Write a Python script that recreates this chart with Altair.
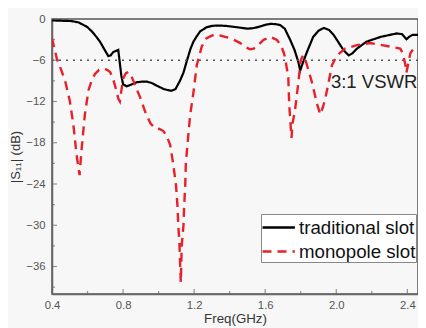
import altair as alt
import pandas as pd

# ---- data ----
series_names = ["traditional slot", "monopole slot"]

freq_trad = [0.40, 0.45, 0.51, 0.55, 0.576, 0.60, 0.624, 0.65, 0.67, 0.69, 0.717, 0.73, 0.745,
             0.773, 0.78, 0.79, 0.80, 0.82, 0.85, 0.877, 0.91, 0.933, 0.96, 0.99, 1.03, 1.07,
             1.095, 1.12, 1.14, 1.16, 1.18, 1.196, 1.215, 1.234, 1.27, 1.30, 1.33, 1.38, 1.44,
             1.50, 1.53, 1.57, 1.60, 1.63, 1.66, 1.685, 1.71, 1.74, 1.765, 1.787, 1.797, 1.81,
             1.835, 1.87, 1.90, 1.93, 1.96, 1.985, 2.01, 2.04, 2.07, 2.09, 2.117, 2.17, 2.25,
             2.34, 2.37, 2.395, 2.41, 2.43, 2.50]
s11_trad = [-0.2, -0.25, -0.3, -0.5, -0.85, -1.2, -1.8, -2.6, -3.3, -4.2, -5.4, -5.3, -4.8,
            -4.5, -6.0, -8.2, -9.5, -9.8, -9.5, -9.2, -9.1, -9.1, -9.3, -9.7, -10.2, -10.45,
            -10.2, -9.0, -7.8, -6.0, -4.3, -3.3, -2.5, -1.8, -1.2, -1.0, -0.95, -1.0, -1.2,
            -1.4, -1.35, -1.1, -0.85, -0.7, -0.75, -0.9, -1.4, -3.0, -4.5, -6.3, -7.5, -6.5,
            -4.8, -2.6, -1.7, -1.3, -1.6, -2.3, -3.3, -4.5, -5.3, -5.0, -4.3, -3.3, -2.6,
            -2.1, -2.2, -2.95, -2.6, -2.3, -2.3]

freq_mono = [0.40, 0.427, 0.45, 0.474, 0.50, 0.52, 0.538, 0.555, 0.567, 0.585, 0.605, 0.625,
             0.642, 0.665, 0.69, 0.71, 0.727, 0.745, 0.76, 0.774, 0.782, 0.79, 0.80, 0.815,
             0.83, 0.845, 0.858, 0.875, 0.896, 0.93, 0.955, 0.98, 1.005, 1.027, 1.045, 1.065,
             1.083, 1.098, 1.106, 1.111, 1.117, 1.121, 1.125, 1.13, 1.14, 1.144, 1.15, 1.153,
             1.16, 1.177, 1.196, 1.215, 1.243, 1.27, 1.31, 1.346, 1.375, 1.403, 1.43, 1.46,
             1.49, 1.515, 1.535, 1.553, 1.59, 1.628, 1.666, 1.69, 1.703, 1.711, 1.73, 1.735,
             1.748, 1.755, 1.767, 1.786, 1.80, 1.813, 1.825, 1.835, 1.863, 1.89, 1.91, 1.925,
             1.938, 1.957, 1.976, 2.004, 2.05, 2.117, 2.19, 2.257, 2.30, 2.36, 2.375, 2.39,
             2.395, 2.405, 2.417, 2.435, 2.45]
s11_mono = [-2.8, -5.75, -7.3, -9.0, -11.9, -15.3, -19.7, -22.7, -18.8, -13.9, -10.4, -8.8,
            -8.0, -7.4, -7.2, -7.4, -7.7, -8.8, -10.2, -11.65, -12.0, -10.5, -8.7, -7.9,
            -7.7, -8.2, -9.0, -10.1, -11.4, -13.9, -15.2, -15.9, -16.0, -16.3, -17.0, -18.3,
            -21.2, -24.2, -27.1, -30.1, -32.5, -35.5, -38.3, -33.0, -30.0, -27.1, -24.2, -21.2,
            -19.0, -14.1, -10.7, -6.7, -4.0, -2.8, -2.3, -2.4, -2.6, -2.8, -3.1, -3.5,
            -4.1, -4.4, -4.3, -4.0, -3.05, -2.6, -3.05, -3.9, -4.8, -5.5, -8.5, -12.4,
            -17.3, -15.0, -13.4, -9.4, -6.0, -5.3, -5.8, -6.7, -9.2, -12.2, -13.9, -12.8,
            -11.6, -9.2, -6.7, -5.3, -4.3, -3.8, -3.5, -3.8, -4.0, -4.3, -5.0, -6.8,
            -7.8, -6.5, -5.0, -4.3, -4.2]

x_major = [0.4, 0.8, 1.2, 1.6, 2.0, 2.4]
x_minor = [0.6, 1.0, 1.4, 1.8, 2.2]
y_major = [0, -6, -12, -18, -24, -30, -36]
y_minor = [-3, -9, -15, -21, -27, -33, -39]

vswr_level = [-6]
annot_text = ["3:1 VSWR"]
annot_x = [1.97]
annot_y = [-9.2]

# ---- tables ----
df_trad = pd.DataFrame({"freq": freq_trad, "s11": s11_trad, "series": series_names[0]})
df_mono = pd.DataFrame({"freq": freq_mono, "s11": s11_mono, "series": series_names[1]})

FONT = "Liberation Sans"
W, H = 366, 275
xs = alt.Scale(domain=[0.4, 2.46], nice=False, zero=False)
ys = alt.Scale(domain=[-40, 0], nice=False, zero=False)

x_enc = alt.X("freq:Q", scale=xs, axis=alt.Axis(
    values=x_major, format=".1f", title="Freq(GHz)", ticks=False, tickSize=0,
    labelPadding=5, titlePadding=1, titleFontSize=13.3, grid=False, labelFlush=False))
y_enc = alt.Y("s11:Q", scale=ys, axis=alt.Axis(
    values=y_major, format="d", title="|S₁₁| (dB)", ticks=False, tickSize=0,
    labelPadding=7, titlePadding=3, titleFontSize=13, grid=False, labelFlush=False))

color_enc = alt.Color("series:N", scale=alt.Scale(domain=series_names, range=["#000000", "#e8202a"]),
                      legend=alt.Legend(title=None, orient="none", legendX=209, legendY=195,
                                        symbolType="M-1,0H1.7", symbolSize=576,
                                        symbolStrokeWidth=2.5,
                                        labelFontSize=18.7, labelFont=FONT, labelColor="#111",
                                        strokeColor="#888", fillColor="#ffffff", padding=0,
                                        rowPadding=0, labelOffset=11, labelLimit=300))
dash_enc = alt.StrokeDash("series:N", scale=alt.Scale(domain=series_names, range=[[1, 0], [9, 6]]),
                          legend=alt.Legend(title=None))

trad = alt.Chart(df_trad).mark_line(strokeWidth=2.2, clip=True).encode(
    x=x_enc, y=y_enc, color=color_enc, strokeDash=dash_enc)
mono = alt.Chart(df_mono).mark_line(strokeWidth=2.4, clip=True).encode(
    x="freq:Q", y="s11:Q", color="series:N", strokeDash="series:N")

rule = alt.Chart(pd.DataFrame({"y": vswr_level})).mark_rule(
    strokeDash=[2, 5], color="#555", strokeWidth=1.5).encode(y="y:Q")

text = alt.Chart(pd.DataFrame({"x": annot_x, "y": annot_y, "t": annot_text})).mark_text(
    align="left", baseline="middle", fontSize=18.5, font=FONT, color="#222").encode(
    x="x:Q", y="y:Q", text="t:N")

xt_major = alt.Chart(pd.DataFrame({"v": x_major})).mark_tick(
    orient="vertical", size=5, thickness=1.2, color="#666").encode(x="v:Q", y=alt.value(H - 2.5))
xt_minor = alt.Chart(pd.DataFrame({"v": x_minor})).mark_tick(
    orient="vertical", size=3, thickness=1.2, color="#666").encode(x="v:Q", y=alt.value(H - 1.5))
yt_major = alt.Chart(pd.DataFrame({"v": y_major})).mark_tick(
    orient="horizontal", size=5, thickness=1.2, color="#666").encode(y="v:Q", x=alt.value(2.5))
yt_minor = alt.Chart(pd.DataFrame({"v": y_minor})).mark_tick(
    orient="horizontal", size=3, thickness=1.2, color="#666").encode(y="v:Q", x=alt.value(1.5))

chart = alt.layer(trad, rule, mono, text, xt_major, xt_minor, yt_major, yt_minor).properties(
    width=W, height=H,
    autosize=alt.AutoSizeParams(type="none"),
    padding={"left": 44, "top": 11, "right": 0, "bottom": 34},
    background="#f7f7f7",
).configure_view(
    stroke="#555", strokeWidth=1.5
).configure_axis(
    domainColor="#666", domainWidth=1.5, labelFont=FONT, titleFont=FONT,
    labelFontSize=11.3, titleFontSize=11, labelColor="#555", titleColor="#333",
    titleFontWeight="normal"
)

chart.save("out.html", embed_options={"renderer": "svg", "actions": False})
